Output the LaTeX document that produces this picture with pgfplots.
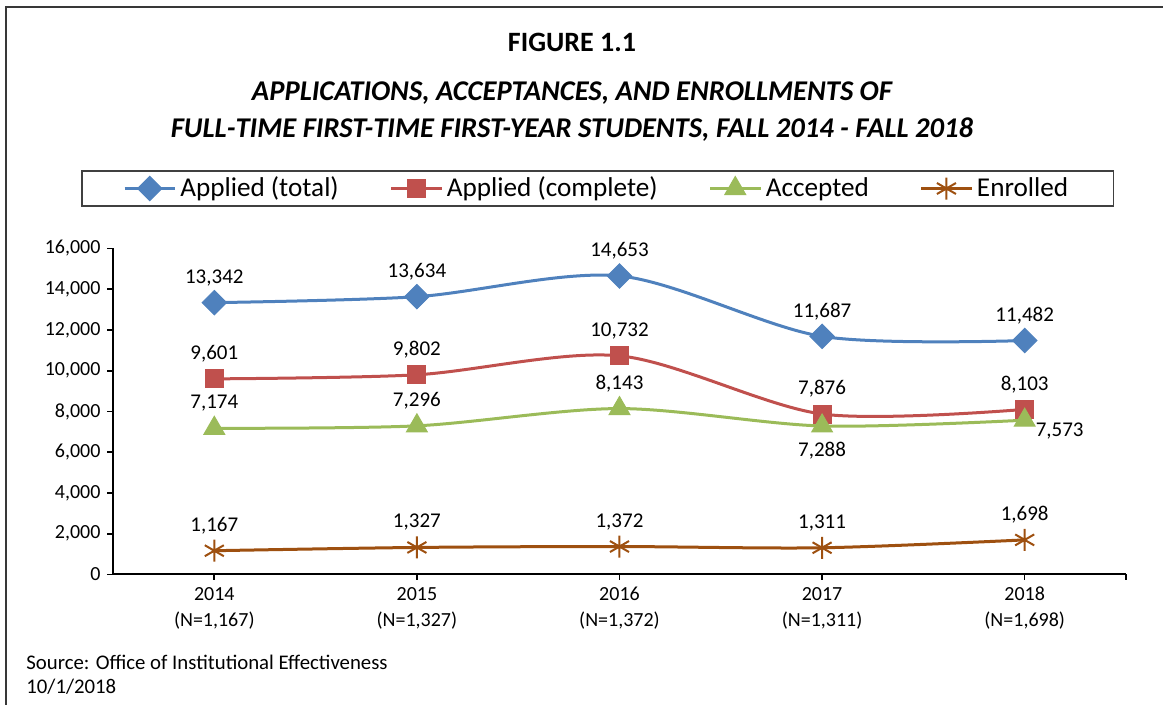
\documentclass[border=0pt]{standalone}
\usepackage{pgfplots}
\pgfplotsset{compat=1.18}
\usepackage{fontspec}
\setmainfont{Carlito}
\definecolor{cBlue}{HTML}{4F81BD}
\definecolor{cRed}{HTML}{C0504D}
\definecolor{cGreen}{HTML}{9BBB59}
\definecolor{cBrown}{RGB}{158,80,16}
\begin{document}
\begin{tikzpicture}
\useasboundingbox (0pt,0pt) rectangle (581.5pt,352.5pt);
\draw[line width=1pt, black!78] (3pt,-20pt) rectangle (600pt,349pt);
\node[font=\bfseries\fontsize{14}{16}\selectfont] at (286pt,331.5pt) {FIGURE 1.1};
\node[font=\bfseries\itshape\fontsize{14.3}{16}\selectfont] at (286pt,306pt) {APPLICATIONS, ACCEPTANCES, AND ENROLLMENTS OF};
\node[font=\bfseries\itshape\fontsize{14.3}{16}\selectfont] at (286pt,287.5pt) {FULL-TIME FIRST-TIME FIRST-YEAR STUDENTS, FALL 2014 - FALL 2018};
\node[anchor=west, inner sep=0pt, font=\fontsize{10.4}{12}\selectfont] at (13pt,21.5pt) {Source: Office of Institutional Effectiveness};
\node[anchor=west, inner sep=0pt, font=\fontsize{10.4}{12}\selectfont] at (13pt,9pt) {10/1/2018};
\begin{axis}[
  at={(56.5pt,65.25pt)}, anchor=south west,
  scale only axis, width=506.5pt, height=163pt,
  xmin=-0.5, xmax=4.5, ymin=0, ymax=16000,
  axis lines=left,
  axis line style={black, line width=1pt, -},
  tick align=outside, major tick length=2.75pt,
  tick style={black, line width=0.8pt},
  clip=false,
  /pgf/number format/assume math mode=true,
  xtick={0,1,2,3,4},
  xticklabels={{2014\\(N=1,167)},{2015\\(N=1,327)},{2016\\(N=1,372)},{2017\\(N=1,311)},{2018\\(N=1,698)}},
  extra x ticks={4.5}, extra x tick labels={},
  xticklabel style={align=center, font=\fontsize{10}{13}\selectfont},
  ytick={0,2000,...,16000},
  scaled y ticks=false,
  yticklabel style={font=\fontsize{10}{12}\selectfont, /pgf/number format/1000 sep={,}},
  legend columns=4,
  legend style={at={(0.4785,1.184)}, anchor=center, draw=black!75, line width=0.75pt,
    font=\fontsize{13.6}{15}\selectfont, inner xsep=20.5pt, inner ysep=1pt,
    /tikz/every even column/.append style={column sep=23.5pt}},
  legend image code/.code={\draw[mark repeat=2,mark phase=2] plot coordinates {(0cm,0cm)(0.44cm,0cm)(0.88cm,0cm)};},
  every axis plot/.append style={line width=1.5pt, smooth, tension=0.5},
  nodes near coords style={font=\fontsize{10.5}{12}\selectfont, black, anchor=center, yshift=12.5pt},
]
\addplot[color=cBlue, mark=square*, mark size=4.3pt, mark options={rotate=45, solid, fill=cBlue, line width=0.5pt},
  nodes near coords={\pgfmathprintnumber[1000 sep={,}]{\pgfplotspointmeta}}]
  coordinates {(0,13342)(1,13634)(2,14653)(3,11687)(4,11482)};
\addlegendentry{Applied (total)}
\addplot[color=cRed, mark=square*, mark size=4.5pt, mark options={solid, fill=cRed, line width=0.5pt},
  nodes near coords={\pgfmathprintnumber[1000 sep={,}]{\pgfplotspointmeta}}]
  coordinates {(0,9601)(1,9802)(2,10732)(3,7876)(4,8103)};
\addlegendentry{Applied (complete)}
\addplot[color=cGreen, mark=triangle*, mark size=6pt, mark options={solid, fill=cGreen, line width=0.5pt}]
  coordinates {(0,7174)(1,7296)(2,8143)(3,7288)(4,7573)};
\addlegendentry{Accepted}
\addplot[color=cBrown, mark=asterisk, mark size=5.5pt, mark options={solid, line width=1pt},
  nodes near coords={\pgfmathprintnumber[1000 sep={,}]{\pgfplotspointmeta}}]
  coordinates {(0,1167)(1,1327)(2,1372)(3,1311)(4,1698)};
\addlegendentry{Enrolled}
\node[font=\fontsize{10.5}{12}\selectfont, yshift=12.5pt] at (axis cs:0,7174) {7,174};
\node[font=\fontsize{10.5}{12}\selectfont, yshift=12.5pt] at (axis cs:1,7296) {7,296};
\node[font=\fontsize{10.5}{12}\selectfont, yshift=12.5pt] at (axis cs:2,8143) {8,143};
\node[font=\fontsize{10.5}{12}\selectfont, yshift=-12.5pt] at (axis cs:3,7288) {7,288};
\node[font=\fontsize{10.5}{12}\selectfont, anchor=west, xshift=2pt, yshift=-5.5pt] at (axis cs:4,7573) {7,573};
\end{axis}
\end{tikzpicture}
\end{document}
